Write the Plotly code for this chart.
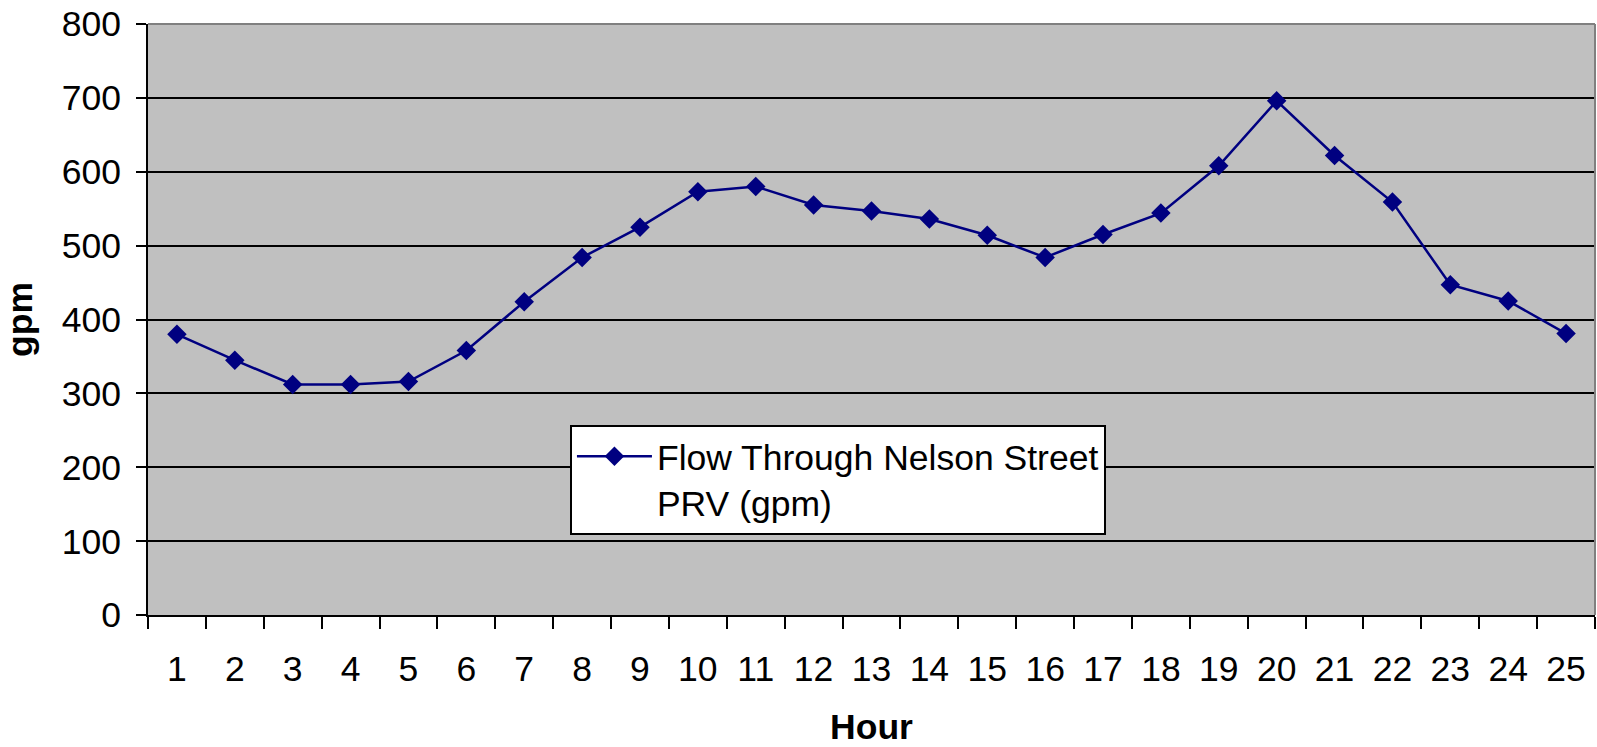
import plotly.graph_objects as go

hours = [str(h) for h in range(1, 26)]
flow_gpm = [380, 345, 312, 312, 316, 358, 424, 484, 525, 573, 580, 555, 547, 536,
            514, 484, 515, 544, 608, 696, 622, 559, 447, 425, 381]
series_name = "Flow Through Nelson Street<br>PRV (gpm)"
y_ticks = [0, 100, 200, 300, 400, 500, 600, 700, 800]

FONT = "Liberation Sans, Arial, sans-serif"
FS = 35.5

fig = go.Figure()
fig.add_trace(go.Scatter(
    x=hours, y=flow_gpm, mode="lines+markers", name=series_name,
    line=dict(color="#000080", width=2.5),
    marker=dict(symbol="diamond", size=15, color="#000080"),
    showlegend=True,
))

fig.update_layout(
    width=1597, height=747,
    margin=dict(l=148, r=2, t=24, b=132, autoexpand=False),
    paper_bgcolor="white", plot_bgcolor="#C0C0C0",
    font=dict(family=FONT, size=FS, color="black"),
    showlegend=True,
    legend=dict(
        x=0.2916, y=0.322, xanchor="left", yanchor="top",
        bgcolor="white", bordercolor="black", borderwidth=2,
        font=dict(family=FONT, size=FS, color="black"),
        itemwidth=75, valign="top", tracegroupgap=0,
    ),
    xaxis=dict(
        type="category", range=[-0.5, 24.5], tickson="boundaries",
        showgrid=False, ticks="outside", ticklen=12, tickwidth=2, tickcolor="black",
        showline=True, linecolor="black", linewidth=2, automargin=False,
        ticklabelstandoff=21, fixedrange=True,
        title=dict(text="<b>Hour</b>", font=dict(family=FONT, size=FS), standoff=30),
    ),
    yaxis=dict(
        range=[0, 800], tickvals=y_ticks, showgrid=True, gridcolor="black", gridwidth=2,
        ticks="outside", ticklen=10, tickwidth=2, tickcolor="black",
        showline=True, linecolor="black", linewidth=2, zeroline=False, automargin=False,
        ticklabelstandoff=8,
        title=dict(text="<b>gpm</b>", font=dict(family=FONT, size=FS), standoff=19),
    ),
    shapes=[
        dict(type="line", xref="paper", yref="paper", x0=0, x1=1, y0=1, y1=1,
             line=dict(color="#808080", width=2)),
        dict(type="line", xref="paper", yref="paper", x0=1, x1=1, y0=0, y1=1,
             line=dict(color="#808080", width=2)),
    ],
)

fig.write_html(
    "out.html",
    config={"displayModeBar": False, "staticPlot": True},
    post_script="document.body.style.margin='0';document.body.style.overflow='hidden';",
)
